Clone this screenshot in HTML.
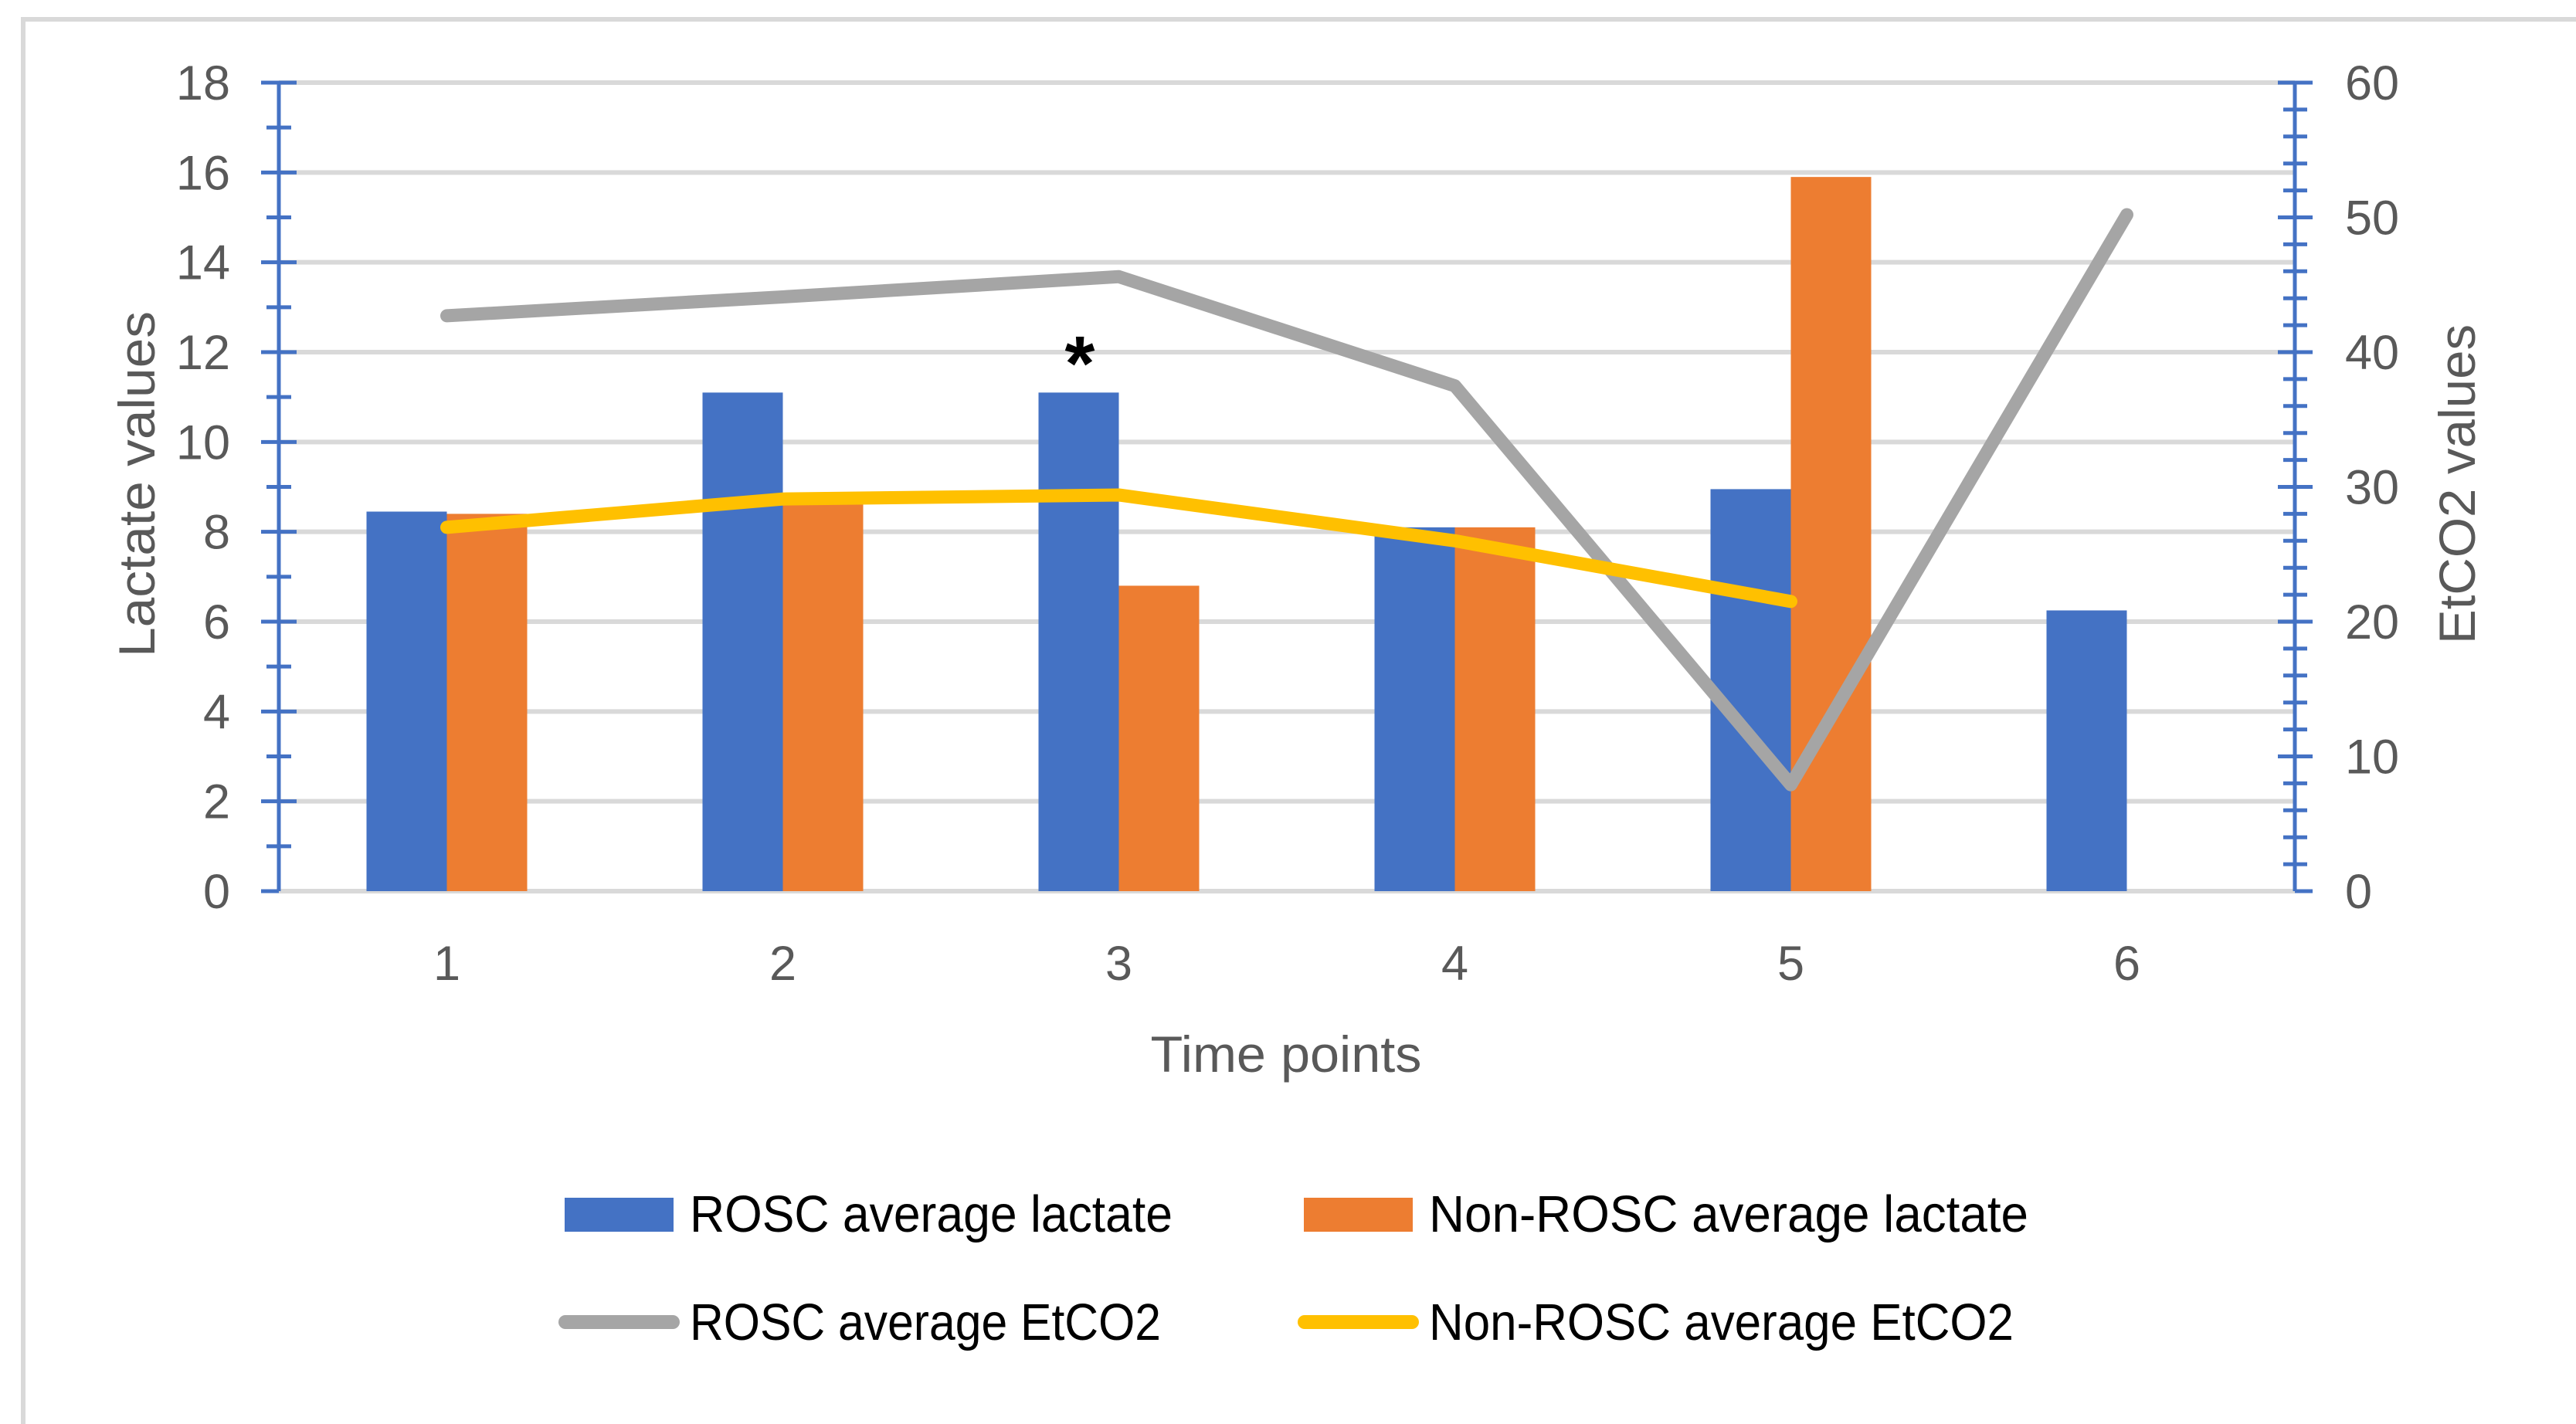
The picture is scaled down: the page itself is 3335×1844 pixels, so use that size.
<!DOCTYPE html>
<html><head><meta charset="utf-8"><style>
html,body{margin:0;padding:0;background:#fff;}
svg{display:block;font-family:"Liberation Sans",sans-serif;}
</style></head><body>
<svg id="chart" width="3335" height="1844" viewBox="0 0 3335 1844" xmlns="http://www.w3.org/2000/svg">
<rect x="30" y="25" width="3400" height="1900" fill="none" stroke="#d9d9d9" stroke-width="6"/>
<g id="grid"></g>
<g id="bars"></g>
<g id="lines"></g>
<g id="axes"></g>
<text x="1398" y="505" font-size="100" font-weight="bold" text-anchor="middle" fill="#000">*</text>
<text transform="translate(200,627) rotate(-90)" font-size="66" fill="#595959" text-anchor="middle" textLength="448" lengthAdjust="spacingAndGlyphs">Lactate values</text>
<text transform="translate(3204,627) rotate(-90)" font-size="66" fill="#595959" text-anchor="middle" textLength="414" lengthAdjust="spacingAndGlyphs">EtCO2 values</text>
<text x="1665" y="1388" font-size="66" fill="#595959" text-anchor="middle" textLength="351" lengthAdjust="spacingAndGlyphs">Time points</text>
<g>
<g>
<rect x="731" y="1551" width="141" height="44" fill="#4472c4"/>
<text x="893" y="1595" font-size="67" fill="#000" textLength="625" lengthAdjust="spacingAndGlyphs">ROSC average lactate</text></g>
<g>
<rect x="1688" y="1551" width="141" height="44" fill="#ed7d31"/>
<text x="1850" y="1595" font-size="67" fill="#000" textLength="776" lengthAdjust="spacingAndGlyphs">Non-ROSC average lactate</text></g>
<g>
<line x1="732" y1="1712" x2="871" y2="1712" stroke="#a5a5a5" stroke-width="18" stroke-linecap="round"/>
<text x="893" y="1735" font-size="67" fill="#000" textLength="610" lengthAdjust="spacingAndGlyphs">ROSC average EtCO2</text></g>
<g>
<line x1="1689" y1="1712" x2="1828" y2="1712" stroke="#ffc000" stroke-width="18" stroke-linecap="round"/>
<text x="1850" y="1735" font-size="67" fill="#000" textLength="757" lengthAdjust="spacingAndGlyphs">Non-ROSC average EtCO2</text></g>
</g>
</svg>
<script>
const categories = ["1","2","3","4","5","6"];
const roscLactate = [8.45, 11.1, 11.1, 8.1, 8.95, 6.25];
const nonRoscLactate = [8.4, 8.7, 6.8, 8.1, 15.9, null];
const roscEtco2 = [42.7, 44.1, 45.6, 37.5, 7.9, 50.2];
const nonRoscEtco2 = [27.0, 29.1, 29.4, 26.0, 21.5, null];
const leftTicks = [0,2,4,6,8,10,12,14,16,18];
const rightTicks = [0,10,20,30,40,50,60];

const NS = "http://www.w3.org/2000/svg";
const X0 = 361, X1 = 2971, Y0 = 1154, Y1 = 107;
const yL = v => Y0 - (Y0 - Y1) * v / 18;
const yR = v => Y0 - (Y0 - Y1) * v / 60;
const band = (X1 - X0) / categories.length;
const xC = i => X0 + band * (i + 0.5);
const barW = 104;
function mk(tag, attrs, parent) {
  const e = document.createElementNS(NS, tag);
  for (const k in attrs) e.setAttribute(k, attrs[k]);
  parent.appendChild(e);
  return e;
}
const grid = document.getElementById('grid');
const axes = document.getElementById('axes');
const bars = document.getElementById('bars');
const lines = document.getElementById('lines');

leftTicks.forEach(t => {
  const g = mk('line', {x1: X0, x2: X1, y1: yL(t), y2: yL(t), stroke: '#d9d9d9', 'stroke-width': 6}, grid);
  
  
  const lb = mk('text', {x: 298, y: yL(t) + 22, 'font-size': 63, fill: '#595959', 'text-anchor': 'end'}, axes);
  lb.textContent = t;
  
  
});
const la = mk('line', {x1: X0, x2: X0, y1: Y1, y2: Y0, stroke: '#4472c4', 'stroke-width': 5}, axes);


for (let v = 0; v <= 18; v += 1) {
  const major = v % 2 === 0;
  const t = mk('line', {x1: major ? X0 - 23 : X0 - 16, x2: v === 0 ? X0 : (major ? X0 + 23 : X0 + 16), y1: yL(v), y2: yL(v), stroke: '#4472c4', 'stroke-width': 5}, axes);
  
  
}
const ra = mk('line', {x1: X1, x2: X1, y1: Y1, y2: Y0, stroke: '#4472c4', 'stroke-width': 5}, axes);


for (let v = 0; v <= 60; v += 2) {
  const major = v % 10 === 0;
  const t = mk('line', {x1: v === 0 ? X1 : (major ? X1 - 22 : X1 - 15), x2: major ? X1 + 23 : X1 + 16, y1: yR(v), y2: yR(v), stroke: '#4472c4', 'stroke-width': 5}, axes);
  
  
}
rightTicks.forEach(t => {
  const lb = mk('text', {x: 3036, y: yR(t) + 22, 'font-size': 63, fill: '#595959'}, axes);
  lb.textContent = t;
  
  
});
categories.forEach((c, i) => {
  const lb = mk('text', {x: xC(i), y: 1269, 'font-size': 63, fill: '#595959', 'text-anchor': 'middle'}, axes);
  lb.textContent = c;
  
  
  if (roscLactate[i] != null) {
    const b = mk('rect', {x: xC(i) - barW, y: yL(roscLactate[i]), width: barW, height: Y0 - yL(roscLactate[i]), fill: '#4472c4'}, bars);
    
    
  }
  if (nonRoscLactate[i] != null) {
    const b = mk('rect', {x: xC(i), y: yL(nonRoscLactate[i]), width: barW, height: Y0 - yL(nonRoscLactate[i]), fill: '#ed7d31'}, bars);
    
    
  }
});
function linePath(arr) {
  let d = '';
  arr.forEach((v, i) => { if (v != null) d += (d ? 'L' : 'M') + xC(i) + ',' + yR(v); });
  return d;
}
const gl = mk('path', {d: linePath(roscEtco2), fill: 'none', stroke: '#a5a5a5', 'stroke-width': 17, 'stroke-linecap': 'round', 'stroke-linejoin': 'round'}, lines);


const yl = mk('path', {d: linePath(nonRoscEtco2), fill: 'none', stroke: '#ffc000', 'stroke-width': 17, 'stroke-linecap': 'round', 'stroke-linejoin': 'round'}, lines);


</script>
</body></html>
